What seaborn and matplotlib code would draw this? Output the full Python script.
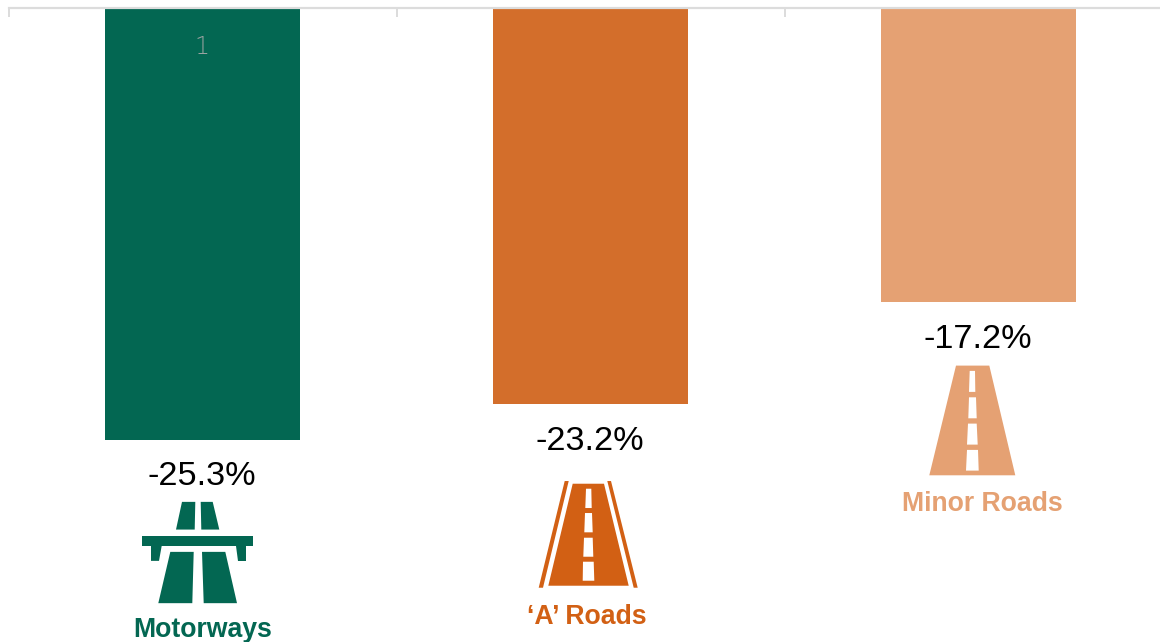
import pandas as pd
import matplotlib
matplotlib.use('Agg')
import matplotlib.pyplot as plt
import seaborn as sns
from matplotlib.patches import Polygon
from matplotlib.transforms import Affine2D

# values
road_types = ['Motorways', "\u2018A\u2019 Roads", 'Minor Roads']
changes = [-25.3, -23.2, -17.2]
bar_colors = ['#036752', '#D36E2B', '#E5A173']
icon_colors = ['#036752', '#D26014', '#E5A173']

WHITE = '#FFFFFF'
GRID = '#DCDCDC'

# icon shapes, in pixels from the centre of the bar end (y goes down)
motorway_icon = [
    [(-20.5, 62), (-7.2, 62), (-7.8, 89.7), (-26.5, 89.7)],
    [(-1.8, 62), (10.2, 62), (16.8, 89.7), (-1.2, 89.7)],
    [(-60.2, 95.7), (50.5, 95.7), (50.5, 106), (-60.2, 106)],
    [(-51.5, 106), (-40.8, 106), (-43.5, 121), (-51.5, 121)],
    [(33.5, 106), (43.5, 106), (43.5, 121), (35.5, 121)],
    [(-32.2, 112), (-8.8, 112), (-10.2, 163.3), (-44.2, 163.3)],
    [(-0.5, 112), (22.8, 112), (34.5, 163.3), (1.2, 163.3)],
]
a_road_icon = [
    [(-17.8, 79.7), (13.5, 79.7), (38.2, 181.7), (-42.2, 181.7)],
    [(-25.8, 77), (-21.8, 77), (-47.5, 183.7), (-51.8, 183.7)],
    [(16.8, 77), (20.5, 77), (47.2, 183.7), (43.2, 183.7)],
]
a_road_dashes = [
    [(-4.5, 84.7), (0.8, 84.7), (1.2, 104), (-5.2, 104)],
    [(-5.5, 109), (1.5, 109), (2.2, 128.3), (-6.2, 128.3)],
    [(-6.5, 133.7), (2.2, 133.7), (2.8, 152.7), (-7.2, 152.7)],
    [(-7.5, 157.7), (3.2, 157.7), (3.8, 176.7), (-7.8, 176.7)],
]
minor_road_icon = [
    [(-22.5, 64), (10.8, 64), (36.8, 173.7), (-49.2, 173.7)],
]
minor_road_dashes = [
    [(-8.8, 69.3), (-3.5, 69.3), (-3.2, 90.3), (-9.5, 90.3)],
    [(-9.5, 95.7), (-2.5, 95.7), (-1.8, 116.7), (-10.2, 116.7)],
    [(-10.5, 122), (-1.8, 122), (-0.8, 143), (-11.5, 143)],
    [(-11.5, 148.3), (-0.5, 148.3), (0.2, 169), (-12.5, 169)],
]
icons = [motorway_icon, a_road_icon, minor_road_icon]
dashes = [[], a_road_dashes, minor_road_dashes]

# text offsets from the bar end: value x, value y, label x, label y
text_offsets = [(-0.5, 37, 0, 190.5), (-1, 37, -4, 213), (-1, 38, 3.5, 202)]

plt.rcParams['font.family'] = ['Liberation Sans', 'DejaVu Sans']

W, H = 1160, 642
fig = plt.figure(figsize=(W / 100, H / 100), dpi=100)
# the axes run on past the right edge, the third category is cut off there
ax = fig.add_axes([8.5 / W, 0, 1164 / W, (H - 8) / H])

data = pd.DataFrame({'road': road_types, 'change': changes})
sns.barplot(data=data, x='road', y='change', hue='road', palette=bar_colors,
            width=0.503, saturation=1, legend=False, ax=ax)

ax.set_xlim(-0.5, 2.5)
ax.set_ylim(-(H - 8) / 17.07, 0)
ax.set_xlabel('')
ax.set_ylabel('')
ax.set_yticks([])

# axis line along the top with ticks between the categories
for side in ['left', 'right', 'bottom']:
    ax.spines[side].set_visible(False)
ax.spines['top'].set_color(GRID)
ax.spines['top'].set_linewidth(1.6)
ax.spines['top'].set_zorder(5)
ax.set_xticks([-0.4985, 0.5015, 1.5015, 2.5])
ax.set_xticklabels([])
ax.tick_params(axis='x', top=True, bottom=False, direction='in', length=6.5,
               width=1.44, color=GRID)

# the stray category label inside the first bar
ax.annotate('1', (0, 0), xytext=(-0.5 * 0.72, -39 * 0.72), textcoords='offset points',
            ha='center', va='center', fontsize=17, color='#9AA3A1',
            family=['DejaVu Sans'], fontweight='light', zorder=6)


def draw_shapes(shapes, anchor, color):
    move = Affine2D().scale(1, -1).translate(anchor[0], anchor[1])
    for shape in shapes:
        ax.add_artist(Polygon(shape, closed=True, facecolor=color, edgecolor='none',
                              transform=move, clip_on=False, zorder=4))


for i, value in enumerate(changes):
    anchor = ax.transData.transform((i, value))
    draw_shapes(icons[i], anchor, icon_colors[i])
    draw_shapes(dashes[i], anchor, WHITE)
    val_x, val_y, lab_x, lab_y = text_offsets[i]
    ax.annotate(f'{value}%', (i, value), xytext=(val_x * 0.72, -val_y * 0.72),
                textcoords='offset points', ha='center', va='center',
                fontsize=24.7, color='black', annotation_clip=False)
    ax.annotate(road_types[i], (i, value), xytext=(lab_x * 0.72, -lab_y * 0.72),
                textcoords='offset points', ha='center', va='center',
                fontsize=19.2, fontweight='bold', color=icon_colors[i],
                annotation_clip=False)

fig.savefig('out.png', dpi=100)
